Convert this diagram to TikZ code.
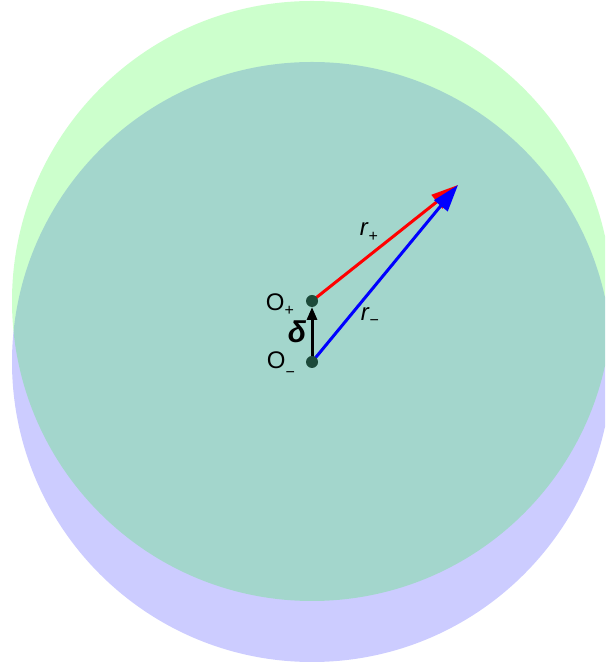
\documentclass[tikz,border=0pt]{standalone}
\usepackage{fontspec}
\setmainfont{Liberation Sans}
\usetikzlibrary{arrows.meta}
\definecolor{dotcol}{HTML}{1C4A3A}
\newcommand{\lsub}[2]{\raisebox{#1}{\fontsize{16}{18}\selectfont #2}}
\tikzset{
  disk/.style={fill opacity=0.2},
  vec/.style={line width=3pt, -{Triangle[length=27pt,width=17pt]}},
  lab/.style={font=\fontsize{24}{26}\selectfont, inner sep=0pt},
  pt/.style={circle, fill=dotcol, minimum size=12pt, inner sep=0pt}
}
\begin{document}
\begin{tikzpicture}[x=1pt,y=1pt]
\useasboundingbox (0,0) rectangle (605,663);
\clip (0,0) rectangle (605,663);
\coordinate (Op) at (312,362);
\coordinate (Om) at (312,301);
\coordinate (tip) at (458,478);
\fill[blue, disk] (Om) circle (300);
\fill[green, disk] (Op) circle (300);
\draw[vec, red] (Op) -- (tip);
\draw[vec, blue] (Om) -- (tip);
\draw[line width=3pt, -{Triangle[length=13pt,width=10pt]}, black] (Om) -- (312,356);
\node[pt] (np) at (Op) {};
\node[pt] (nm) at (Om) {};
\node[lab, anchor=base] (lp) at (280,352) {O\lsub{-5pt}{+}};
\node[lab, anchor=base] (lm) at (281,294) {O\lsub{-9pt}{−}};
\node[lab, font=\fontsize{30}{32}\selectfont\bfseries\itshape] (d) at (297,331) {δ};
\node[lab, anchor=base] (rp) at (369,427) {\textit{r}\lsub{-6pt}{+}};
\node[lab, anchor=base] (rm) at (370,342) {\textit{r}\lsub{-5pt}{−}};
\end{tikzpicture}
\end{document}
